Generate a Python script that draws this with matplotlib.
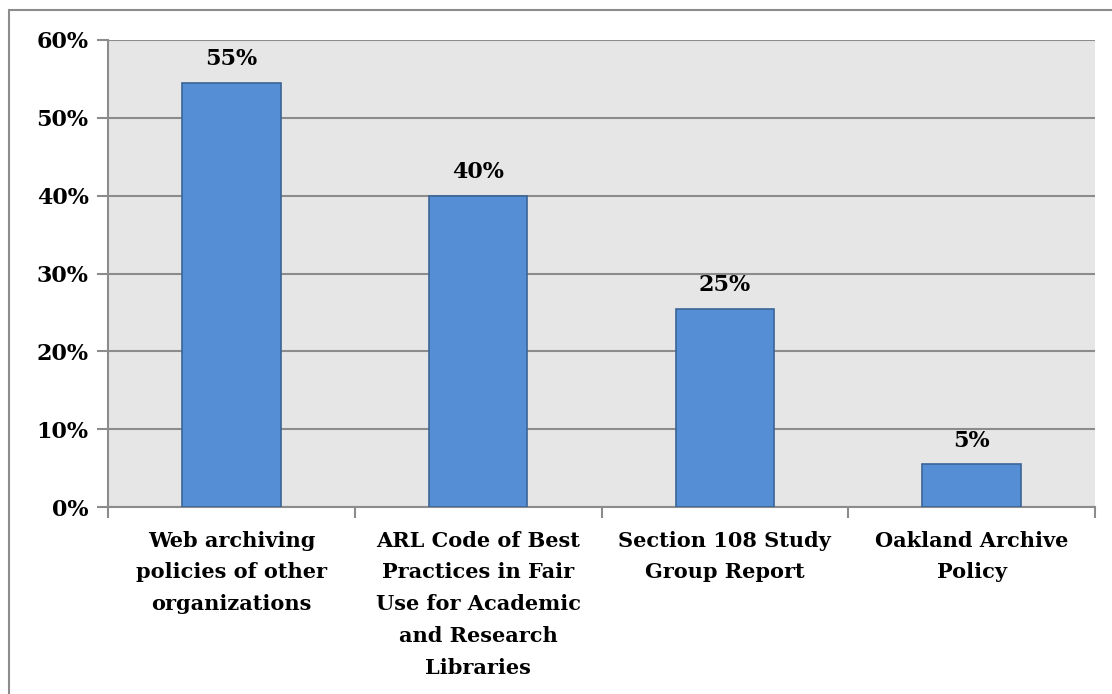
import matplotlib
matplotlib.use("Agg")
import matplotlib.pyplot as plt
from matplotlib.patches import Rectangle
import numpy as np

# data
categories = ["Web archiving\npolicies of other\norganizations",
              "ARL Code of Best\nPractices in Fair\nUse for Academic\nand Research\nLibraries",
              "Section 108 Study\nGroup Report",
              "Oakland Archive\nPolicy"]
shares = [54.5, 40.0, 25.5, 5.5]   # percent
share_labels = ["55%", "40%", "25%", "5%"]
yticks = [0, 10, 20, 30, 40, 50, 60]

plt.rcParams['font.family'] = ['DejaVu Serif']
plt.rcParams['font.weight'] = 'bold'

fig = plt.figure(figsize=(11.12, 6.94), dpi=100)
ax = fig.add_axes([108/1112, 1-507/694, (1095-108)/1112, (507-40)/694])
ax.set_facecolor('#E6E6E6')

x = np.arange(len(categories))
ax.bar(x, shares, width=0.4, color='#558ED5', edgecolor='#3A6596', linewidth=1.2, zorder=3)
for xi, v, lab in zip(x, shares, share_labels):
    ax.annotate(lab, (xi, v), xytext=(0, 9), textcoords='offset points',
                ha='center', va='bottom', fontsize=16, fontweight='bold')

ax.set_xlim(-0.5, len(categories)-0.5)
ax.set_ylim(0, 60)
ax.set_yticks(yticks)
ax.set_yticklabels([f"{t}%" for t in yticks], fontsize=16, fontweight='bold')
ax.yaxis.grid(True, color='#8C8C8C', linewidth=1.5, zorder=0)
ax.set_axisbelow(True)

ax.set_xticks(x)
ax.set_xticklabels(categories, fontsize=15, fontweight='bold', linespacing=1.74)
ax.set_xticks(np.arange(-0.5, len(categories), 1.0), minor=True)
ax.tick_params(axis='x', which='major', length=0, pad=17)
ax.tick_params(axis='x', which='minor', length=8, color='#8C8C8C', width=1.5)
ax.tick_params(axis='y', length=8, color='#8C8C8C', width=1.5, pad=6)

for side in ['top', 'right']:
    ax.spines[side].set_visible(False)
for side in ['left', 'bottom']:
    ax.spines[side].set_color('#8C8C8C')
    ax.spines[side].set_linewidth(1.5)

# chart border
fig.patches.append(Rectangle((9/1112, -0.1), 1.2, (694-10)/694 + 0.1,
                             transform=fig.transFigure, fill=False,
                             edgecolor='#8C8C8C', linewidth=1.5))

fig.savefig("out.png", dpi=100)
